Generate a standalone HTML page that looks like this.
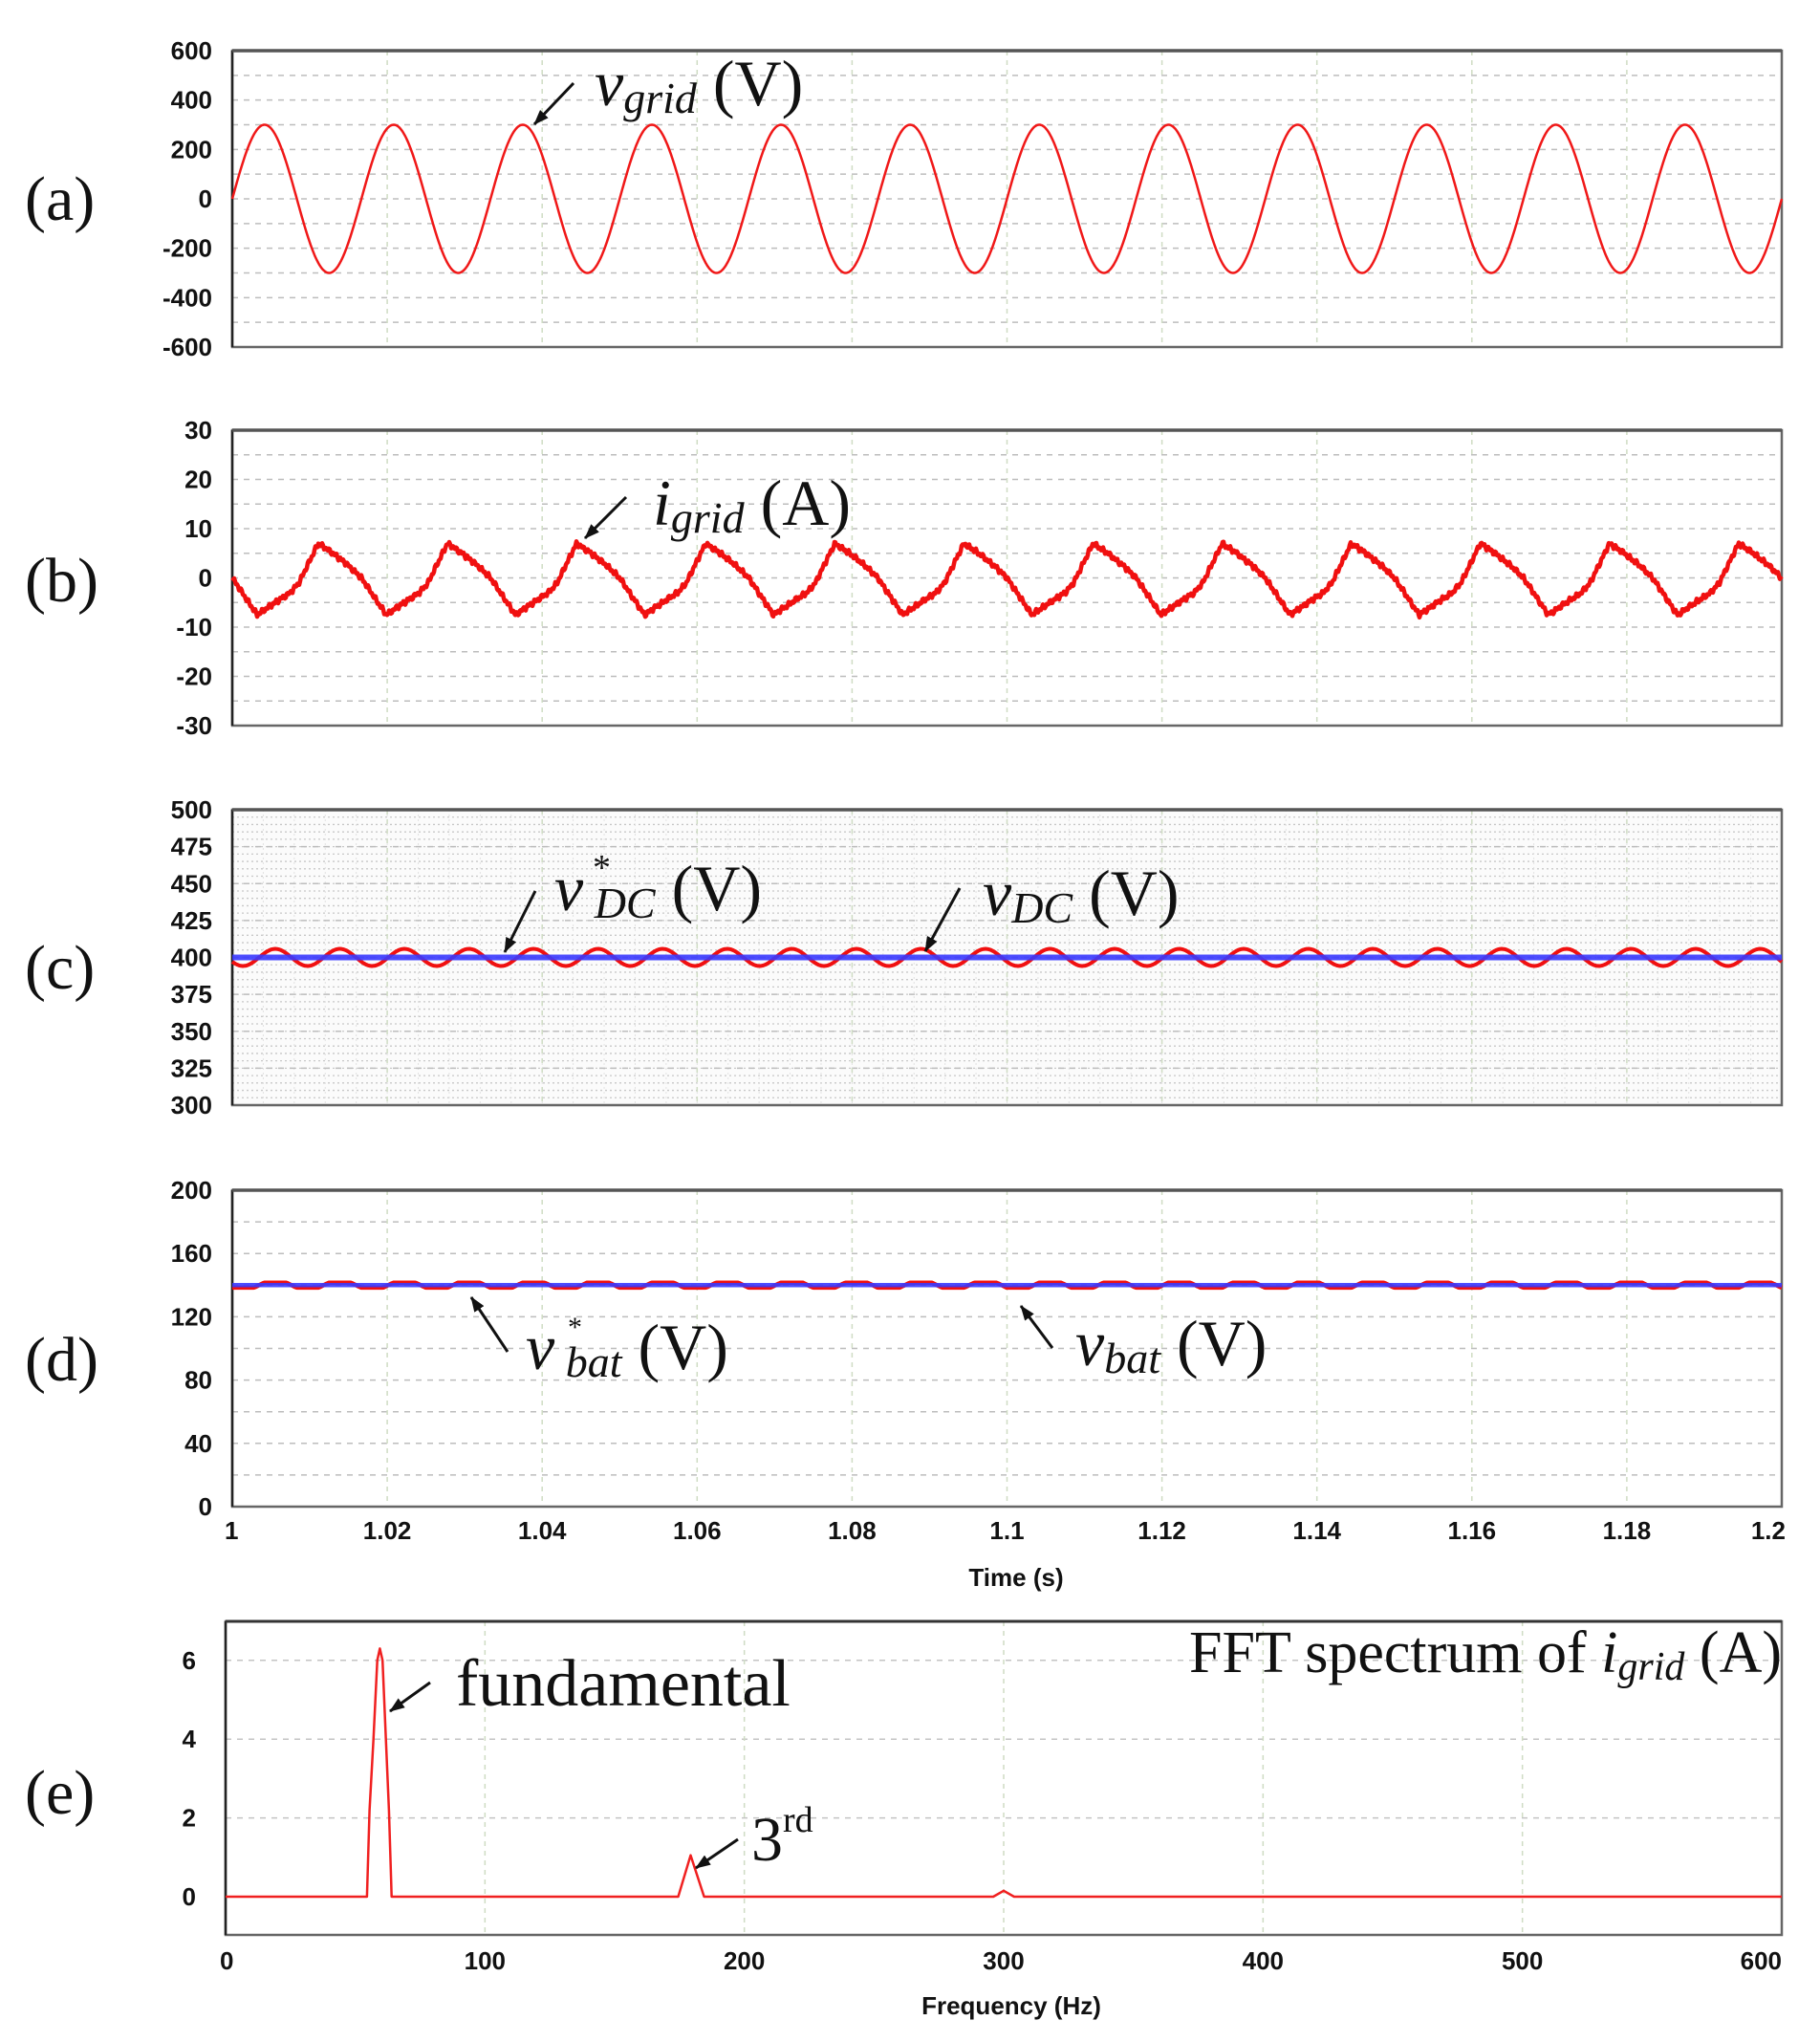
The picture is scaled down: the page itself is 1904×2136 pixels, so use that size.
<!DOCTYPE html>
<html><head><meta charset="utf-8">
<style>
html,body{margin:0;padding:0;background:#fff;}
svg{display:block;}
.tk{font-family:"Liberation Sans",Arial,sans-serif;font-weight:bold;font-size:26px;fill:#111;}
.sf{font-family:"Liberation Serif","Times New Roman",serif;fill:#111;}
</style></head>
<body>
<svg id="s" width="1904" height="2136" viewBox="0 0 1904 2136" xmlns="http://www.w3.org/2000/svg">
<defs>
<marker id="ah2" markerWidth="16" markerHeight="12" refX="15" refY="6" orient="auto" markerUnits="userSpaceOnUse">
<path d="M0,0 L16,6 L0,12 z" fill="#111"/>
</marker>
</defs>
<g id="g"></g>

<text class="sf" x="26" y="230" font-size="66">(a)</text>
<text class="sf" x="26" y="629" font-size="66">(b)</text>
<text class="sf" x="26" y="1034" font-size="66">(c)</text>
<text class="sf" x="26" y="1444" font-size="66">(d)</text>
<text class="sf" x="26" y="1897" font-size="66">(e)</text>

<line x1="600" y1="87" x2="559" y2="130" stroke="#111" stroke-width="3" marker-end="url(#ah2)"/>
<text class="sf" x="622" y="110" font-size="68"><tspan font-style="italic">v</tspan><tspan font-style="italic" font-size="46" dy="8">grid</tspan><tspan dy="-8"> (V)</tspan></text>

<line x1="655" y1="520" x2="612" y2="563" stroke="#111" stroke-width="3" marker-end="url(#ah2)"/>
<text class="sf" x="683" y="549" font-size="68"><tspan font-style="italic">i</tspan><tspan font-style="italic" font-size="46" dy="8">grid</tspan><tspan dy="-8"> (A)</tspan></text>

<line x1="560" y1="932" x2="528" y2="996" stroke="#111" stroke-width="3" marker-end="url(#ah2)"/>
<text class="sf" x="580" y="952" font-size="68"><tspan font-style="italic">v</tspan><tspan font-style="italic" font-size="46" dy="8"> DC</tspan><tspan dy="-8"> (V)</tspan></text>
<text class="sf" x="620" y="920" font-size="38">*</text>

<line x1="1004" y1="929" x2="968" y2="995" stroke="#111" stroke-width="3" marker-end="url(#ah2)"/>
<text class="sf" x="1028" y="957" font-size="68"><tspan font-style="italic">v</tspan><tspan font-style="italic" font-size="46" dy="8">DC</tspan><tspan dy="-8"> (V)</tspan></text>

<line x1="531" y1="1414" x2="493" y2="1357" stroke="#111" stroke-width="3" marker-end="url(#ah2)"/>
<text class="sf" x="550" y="1432" font-size="68"><tspan font-style="italic">v</tspan><tspan font-style="italic" font-size="46" dy="8"> bat</tspan><tspan dy="-8"> (V)</tspan></text>
<text class="sf" x="594" y="1398" font-size="30">*</text>

<line x1="1101" y1="1410" x2="1068" y2="1366" stroke="#111" stroke-width="3" marker-end="url(#ah2)"/>
<text class="sf" x="1125" y="1428" font-size="68"><tspan font-style="italic">v</tspan><tspan font-style="italic" font-size="46" dy="8">bat</tspan><tspan dy="-8"> (V)</tspan></text>

<line x1="450" y1="1760" x2="408" y2="1790" stroke="#111" stroke-width="3" marker-end="url(#ah2)"/>
<text class="sf" x="477" y="1784" font-size="70">fundamental</text>

<line x1="772" y1="1924" x2="728" y2="1954" stroke="#111" stroke-width="3" marker-end="url(#ah2)"/>
<text class="sf" x="786" y="1946" font-size="66">3<tspan font-size="38" dy="-30">rd</tspan></text>

<text class="sf" x="1864" y="1749" font-size="62" text-anchor="end">FFT spectrum of <tspan font-style="italic">i</tspan><tspan font-style="italic" font-size="42" dy="8">grid</tspan><tspan dy="-8"> (A)</tspan></text>

<text class="tk" x="1063" y="1659" text-anchor="middle">Time (s)</text>
<text class="tk" x="1058" y="2107" text-anchor="middle">Frequency (Hz)</text>
</svg>
<script>
(function(){
var NS="http://www.w3.org/2000/svg",G=document.getElementById("g");
function el(t,a){var e=document.createElementNS(NS,t);for(var k in a)e.setAttribute(k,a[k]);G.appendChild(e);return e;}
function txt(x,y,s,anc){var e=el("text",{x:x,y:y,"class":"tk","text-anchor":anc||"end"});e.textContent=s;}
var L=243,R=1864,pxs=(R-L)/0.2;
function X(t){return L+(t-1)*pxs;}
function panel(top,bot,ymin,ymax,step,labels,opt){
  opt=opt||{};
  function Y(v){return bot-(v-ymin)/(ymax-ymin)*(bot-top);}
  el("rect",{x:L,y:top,width:R-L,height:bot-top,fill:opt.bg||"#fff"});
  if(opt.dense){
    for(var v=ymin;v<=ymax;v+=5){el("line",{x1:L,x2:R,y1:Y(v),y2:Y(v),stroke:"#c8c8c8","stroke-width":1.3,"stroke-dasharray":"2,3"});}
    for(var t=1;t<=1.2;t+=0.004){el("line",{x1:X(t),x2:X(t),y1:top,y2:bot,stroke:"#e2e2e2","stroke-width":1,"stroke-dasharray":"2,3"});}
  }
  for(var v=ymin+step;v<ymax-1e-9;v+=step){el("line",{x1:L,x2:R,y1:Y(v),y2:Y(v),stroke:"#bdbdbd","stroke-width":1.5,"stroke-dasharray":"6,6"});}
  for(var i=1;i<10;i++){var x=X(1+i*0.02);el("line",{x1:x,x2:x,y1:top,y2:bot,stroke:"#cfdcc4","stroke-width":1.5,"stroke-dasharray":"5,5"});}
  el("rect",{x:L,y:top,width:R-L,height:bot-top,fill:"none",stroke:"#666","stroke-width":2.5});
  el("line",{x1:L,x2:L,y1:top,y2:bot,stroke:"#222","stroke-width":2.5});
  el("line",{x1:L,x2:R,y1:top,y2:top,stroke:"#555","stroke-width":3.5});
  for(var i=0;i<labels.length;i++){var v=labels[i];txt(222,Y(v)+9,String(v));}
  return Y;
}
function poly(pts,col,w){el("polyline",{points:pts.join(" "),fill:"none",stroke:col,"stroke-width":w,"stroke-linejoin":"round"});}
var Ya=panel(53,363,-600,600,100,[600,400,200,0,-200,-400,-600]);
var p=[];for(var x=L;x<=R;x+=1){var t=1+(x-L)/pxs;p.push(x.toFixed(1)+","+Ya(300*Math.sin(2*Math.PI*60*(t-1))).toFixed(1));}
poly(p,"#f01818",2.5);
var Yb=panel(450,759,-30,30,5,[30,20,10,0,-10,-20,-30]);
var T=1/60,kp=[[0,0],[0.0032,-7.5],[0.0060,-4.5],[0.0075,-3],[0.0086,-1],[0.0111,7],[0.0130,5],[0.0150,2.5],[T,0]];
function ib(t){var ph=((t-1)%T+T)%T;for(var i=1;i<kp.length;i++){if(ph<=kp[i][0]){var a=kp[i-1],b=kp[i];return a[1]+(b[1]-a[1])*(ph-a[0])/(b[0]-a[0]);}}return 0;}
p=[];for(var x=L;x<=R;x+=1){var t=1+(x-L)/pxs;var n=0.35*Math.sin(x*1.7)+0.25*Math.sin(x*0.9);p.push(x+","+Yb(ib(t)+n).toFixed(1));}
poly(p,"#f01010",4.5);
var Yc=panel(847,1156,300,500,25,[500,475,450,425,400,375,350,325,300],{dense:true,bg:"#fbfbfb"});
p=[];for(var x=L;x<=R;x+=1){var t=1+(x-L)/pxs;p.push(x+","+Yc(400+5.8*Math.cos(2*Math.PI*120*(t-1-0.00555))).toFixed(1));}
poly(p,"#f01010",4);
el("line",{x1:L,x2:R,y1:Yc(400),y2:Yc(400),stroke:"#3a3aff","stroke-width":6,opacity:0.9});
var Yd=panel(1245,1576,0,200,20,[200,160,120,80,40,0]);
p=[];for(var x=L;x<=R;x+=1){var t=1+(x-L)/pxs;var s=Math.cos(2*Math.PI*120*(t-1-0.00555));var v=140+1.6*Math.max(-1,Math.min(1,s*2));p.push(x+","+Yd(v).toFixed(1));}
poly(p,"#f01010",4.5);
el("line",{x1:L,x2:R,y1:Yd(140),y2:Yd(140),stroke:"#3a3aff","stroke-width":4.5,opacity:0.9});
var tl=["1","1.02","1.04","1.06","1.08","1.1","1.12","1.14","1.16","1.18","1.2"];
for(var i=0;i<=10;i++){var x=X(1+i*0.02);var anc=i==0?"start":(i==10?"end":"middle");txt(i==0?x-8:(i==10?x+4:x),1610,tl[i],anc);}
var EL=236,ER=1864,ET=1696,EB=2024,fx=(ER-EL)/600;
function Ye(v){return 1984-v*41.2;}
function Xe(f){return EL+f*fx;}
el("rect",{x:EL,y:ET,width:ER-EL,height:EB-ET,fill:"#fff"});
[2,4,6].forEach(function(v){el("line",{x1:EL,x2:ER,y1:Ye(v),y2:Ye(v),stroke:"#c4c4c4","stroke-width":1.5,"stroke-dasharray":"6,6"});});
for(var f=100;f<600;f+=100){el("line",{x1:Xe(f),x2:Xe(f),y1:ET,y2:EB,stroke:"#cfdcc4","stroke-width":1.5,"stroke-dasharray":"5,5"});}
el("rect",{x:EL,y:ET,width:ER-EL,height:EB-ET,fill:"none",stroke:"#666","stroke-width":2.5});
el("line",{x1:EL,x2:EL,y1:ET,y2:EB,stroke:"#222","stroke-width":2.5});
el("line",{x1:EL,x2:ER,y1:ET,y2:ET,stroke:"#333","stroke-width":3});
[6,4,2,0].forEach(function(v){txt(205,Ye(v)+9,String(v));});
var sp=[[0,0],[54.5,0],[55.5,2.2],[57,4.0],[58.5,6.0],[59.5,6.3],[60.5,6.0],[61.8,4.0],[63,2.2],[64,0],[174.5,0],[179.3,1.05],[184.5,0],[296,0],[300,0.15],[304,0],[600,0]];
poly(sp.map(function(q){return Xe(q[0]).toFixed(1)+","+Ye(q[1]).toFixed(1);}),"#f02020",2.5);
for(var f=0;f<=600;f+=100){var anc=f==0?"start":(f==600?"end":"middle");txt(f==600?ER:(f==0?Xe(f)-6:Xe(f)),2060,String(f),anc);}
})();
</script>
</body></html>
